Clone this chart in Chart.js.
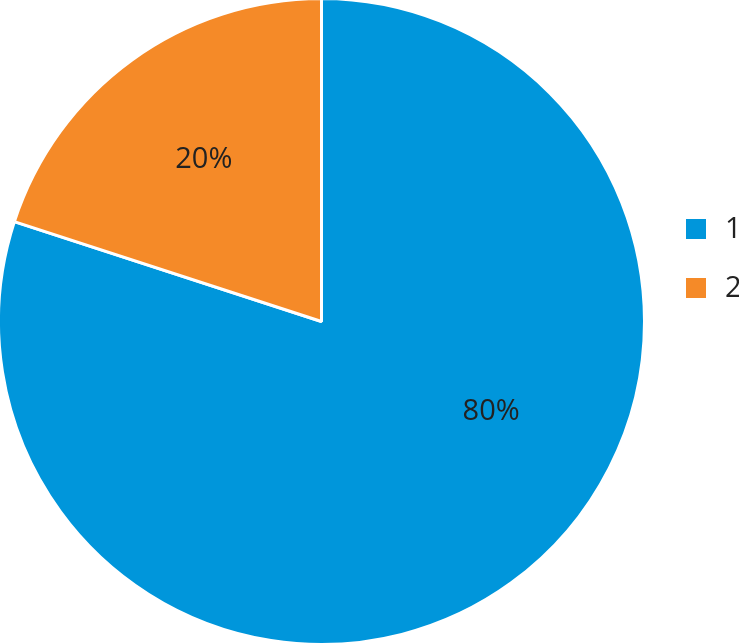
<!DOCTYPE html>
<html>
<head>
<meta charset="utf-8">
<script src="https://cdn.jsdelivr.net/npm/chart.js@4"></script>
<style>
  html, body { margin: 0; padding: 0; background: #ffffff; }
  #wrap { width: 739px; height: 643px; position: relative; overflow: hidden; }
  #c { position: absolute; left: -3px; top: -3px; }
</style>
</head>
<body>
<div id="wrap"><canvas id="c" width="745" height="649"></canvas></div>
<script>
// ---- data ----
const categories = ['1', '2'];
const values = [80, 20];
const percentLabels = ['80%', '20%'];
const colors = ['#0096DB', '#F58A28'];

// label placement (angle in degrees on screen, fraction of radius)
const labelPlacement = [
  { angle: 28, frac: 0.595 },
  { angle: -126, frac: 0.62 }
];

const FONT = '"Open Sans", "Noto Sans", sans-serif';
const TEXT_COLOR = '#222222';

const labelsPlugin = {
  id: 'sliceLabels',
  afterDatasetsDraw(chart) {
    const ctx = chart.ctx;
    const meta = chart.getDatasetMeta(0);
    ctx.save();
    ctx.font = '400 29px ' + FONT;
    ctx.fillStyle = TEXT_COLOR;
    ctx.textAlign = 'center';
    ctx.textBaseline = 'middle';
    meta.data.forEach((arc, i) => {
      const p = arc.getProps(['x', 'y', 'outerRadius'], true);
      const a = labelPlacement[i].angle * Math.PI / 180;
      const r = p.outerRadius * labelPlacement[i].frac;
      ctx.fillText(percentLabels[i], p.x + r * Math.cos(a), p.y + r * Math.sin(a));
    });
    ctx.restore();
  }
};

const legendPlugin = {
  id: 'sideLegend',
  afterDraw(chart) {
    const ctx = chart.ctx;
    const ca = chart.chartArea;
    const x0 = ca.right + 40;
    const yStart = 222;
    const step = 59;
    ctx.save();
    ctx.font = '400 29px ' + FONT;
    ctx.textBaseline = 'middle';
    ctx.textAlign = 'left';
    chart.data.labels.forEach((lab, i) => {
      const y = yStart + i * step;
      ctx.fillStyle = chart.data.datasets[0].backgroundColor[i];
      ctx.fillRect(x0, y, 20, 20);
      ctx.fillStyle = TEXT_COLOR;
      ctx.fillText(lab, x0 + 39, y + 11);
    });
    ctx.restore();
  }
};

new Chart(document.getElementById('c'), {
  type: 'pie',
  data: {
    labels: categories,
    datasets: [{
      data: values,
      backgroundColor: colors,
      borderColor: '#ffffff',
      borderWidth: 3
    }]
  },
  options: {
    responsive: false,
    animation: false,
    layout: { padding: { left: 0, right: 96, top: 0, bottom: 0 } },
    plugins: {
      legend: { display: false },
      tooltip: { enabled: false }
    }
  },
  plugins: [labelsPlugin, legendPlugin]
});
</script>
</body>
</html>
